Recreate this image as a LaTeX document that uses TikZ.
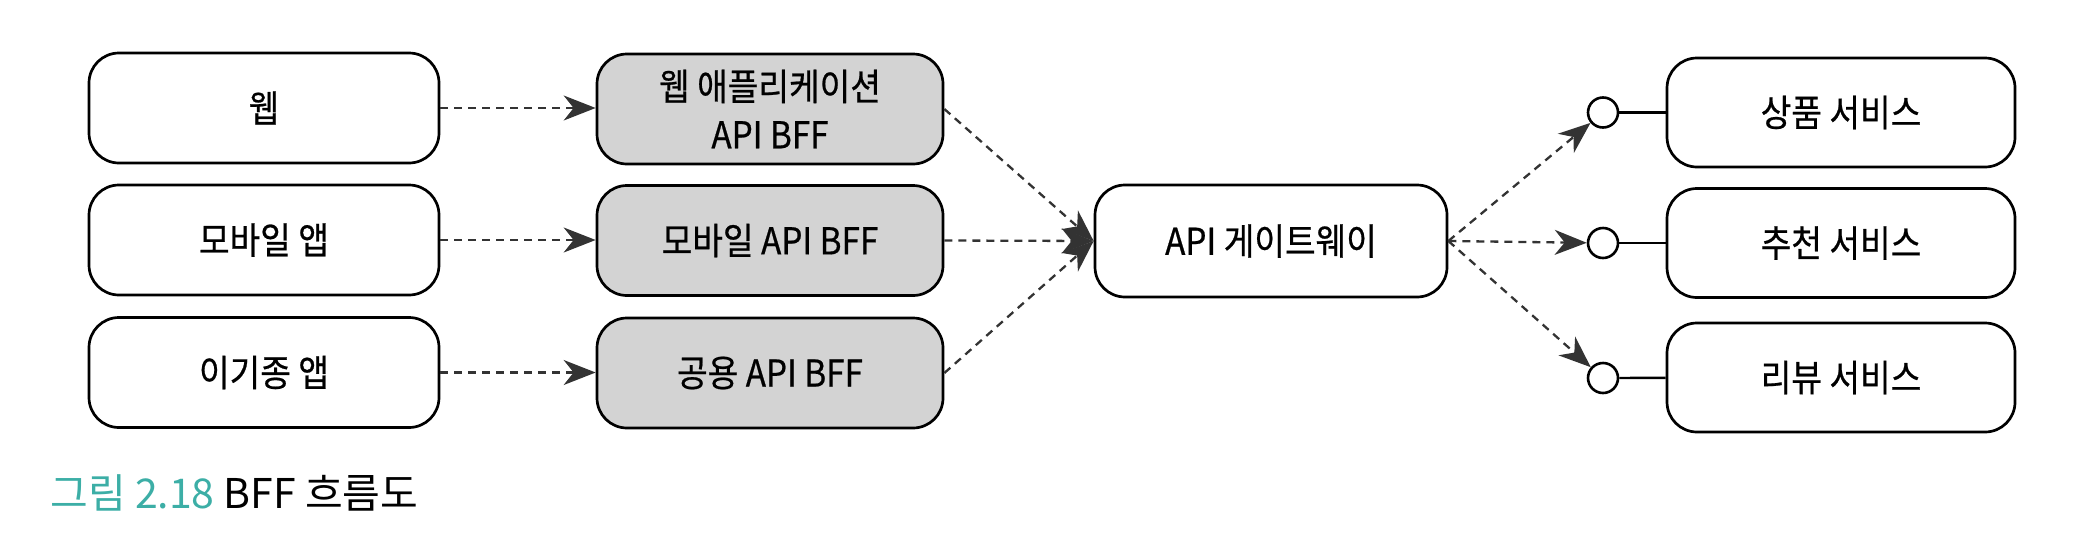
\documentclass[tikz,border=0pt]{standalone}
\usepackage{fontspec}
\usetikzlibrary{arrows.meta}
\newfontfamily\krfont{Noto Sans CJK KR}[FakeStretch=0.9, FakeBold=0.6]
\newfontfamily\capfont{Noto Sans CJK KR}
\definecolor{teal}{HTML}{3CAEA6}
\definecolor{boxgray}{HTML}{D3D3D3}
\definecolor{tipgray}{HTML}{333333}
\tikzset{
  box/.style={align=center, font=\krfont\fontsize{18.5}{24}\selectfont, inner sep=0pt,
    draw=black, line width=1.35pt, rounded corners=15pt},
  client/.style={box, minimum width=175pt, minimum height=55pt},
  bff/.style={box, fill=boxgray, minimum width=173pt, minimum height=55pt},
  gw/.style={box, minimum width=176pt, minimum height=56pt},
  svc/.style={box, minimum width=174pt, minimum height=54.5pt},
  port/.style={circle, draw=black, line width=1.3pt, fill=white, minimum size=15pt, inner sep=0pt},
  flow/.style={dashed, dash pattern=on 4pt off 3pt, line width=1.15pt, draw=tipgray,
    -{Stealth[length=16pt, width=12.5pt, inset=5pt, fill=tipgray]}},
  link/.style={line width=1.2pt, draw=black}
}
\begin{document}
\begin{tikzpicture}[x=0.5pt, y=-0.5pt]
\useasboundingbox (0,0) rectangle (2076,552);
% clients
\node[client] (web) at (264,108) {웹};
\node[client] (mob) at (264,240) {모바일 앱};
\node[client] (oth) at (264,372.5) {이기종 앱};
% BFFs
\node[bff] (bweb) at (770,109) {웹 애플리케이션\\API BFF};
\node[bff] (bmob) at (770,240.5) {모바일 API BFF};
\node[bff] (bcom) at (770,373) {공용 API BFF};
% gateway
\node[gw] (gate) at (1271,241) {API 게이트웨이};
% services
\node[svc] (s1) at (1841,112.5) {상품 서비스};
\node[svc] (s2) at (1841,243) {추천 서비스};
\node[svc] (s3) at (1841,377.5) {리뷰 서비스};
% ports
\node[port] (p1) at (1603,112.5) {};
\node[port] (p2) at (1603,243) {};
\node[port] (p3) at (1603,378) {};
% connectors
\draw[flow] (web) -- (bweb.west |- web);
\draw[flow] (mob) -- (bmob.west |- mob);
\draw[flow] (oth) -- (bcom.west |- oth);
\draw[flow] (bweb.east) -- (gate.west);
\draw[flow] (bmob.east) -- (gate.west);
\draw[flow] (bcom.east) -- (gate.west);
\draw[flow] (gate.east) -- (p1);
\draw[flow] (gate.east) -- (p2);
\draw[flow] (gate.east) -- (p3);
\draw[link] (p1) -- (s1);
\draw[link] (p2) -- (s2);
\draw[link] (p3) -- (s3);
% caption
\node[anchor=base west, inner sep=0pt, font=\capfont\fontsize{20.5}{24}\selectfont] (cap) at (50,508)
  {\textcolor{teal}{그림 2.18} BFF 흐름도};
\end{tikzpicture}
\end{document}
